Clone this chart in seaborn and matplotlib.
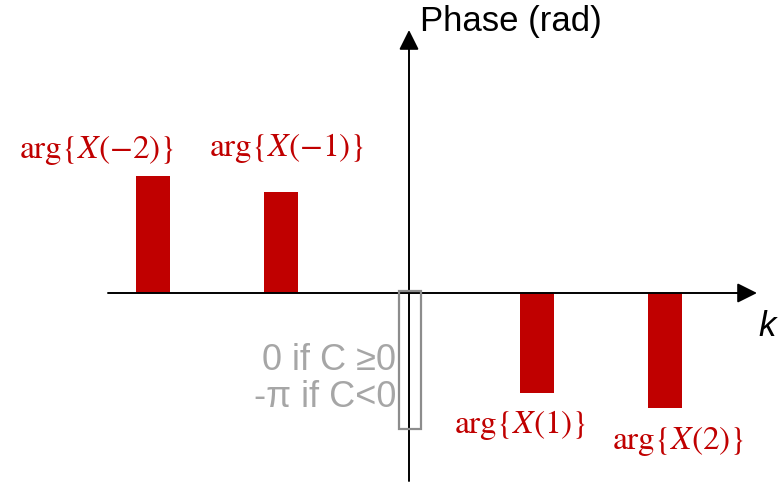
import matplotlib
matplotlib.use("Agg")
import matplotlib.pyplot as plt
from matplotlib.patches import Rectangle
import pandas as pd
import seaborn as sns

# Phase spectrum of a real signal (radians), one bar per harmonic k
k_values = [-2, -1, 1, 2]
phase_values = [2.7, 2.33, -2.3, -2.65]
bar_labels = [r"$\mathrm{arg}\{X(-2)\}$", r"$\mathrm{arg}\{X(-1)\}$",
              r"$\mathrm{arg}\{X(1)\}$", r"$\mathrm{arg}\{X(2)\}$"]
dc_note = "0 if C \u22650\n-\u03c0 if C<0"
dc_phase_min = -3.14159

# label offsets (pixels) relative to each bar tip
label_offsets = [(-56, 26), (6, 44), (-17, -32), (13, -33)]

RED = "#C00000"
GRAY_TEXT = "#A6A6A6"
GRAY_BOX = "#8C8C8C"

W, H = 784, 483
px_per_k = 128.0
px_per_rad = 43.3
x0_px, y0_px = 409, 293

sns.set_theme(style="white")
plt.rcParams["font.family"] = ["Liberation Sans", "DejaVu Sans"]
plt.rcParams["mathtext.fontset"] = "stix"

fig = plt.figure(figsize=(W / 100, H / 100), dpi=100)
ax = fig.add_axes([0, 0, 1, 1])

df = pd.DataFrame({"k": k_values, "phase": phase_values})
sns.barplot(data=df, x="k", y="phase", native_scale=True, width=0.27,
            color=RED, saturation=1, errorbar=None, linewidth=0, ax=ax)

xlim = (-x0_px / px_per_k, (W - x0_px) / px_per_k)
ylim = (-(H - y0_px) / px_per_rad, y0_px / px_per_rad)
ax.set_xlim(*xlim)
ax.set_ylim(*ylim)
ax.axis("off")

def px(xp, yp):
    return ((xp - x0_px) / px_per_k, (y0_px - yp) / px_per_rad)

# axes with arrow heads
arrow_kw = dict(arrowstyle="-|>,head_length=0.6,head_width=0.3",
                mutation_scale=20, lw=1.4, color="black",
                shrinkA=0, shrinkB=0)
ax.annotate("", xy=px(757, y0_px), xytext=px(108, y0_px),
            arrowprops=arrow_kw, zorder=5)
ax.annotate("", xy=px(x0_px, 30), xytext=px(x0_px, 481),
            arrowprops=arrow_kw, zorder=5)

# DC term: outlined box from 0 down to -pi
box_w = 0.165
ax.add_patch(Rectangle((-box_w / 2 + 0.008, dc_phase_min), box_w,
                       -dc_phase_min + 0.04, fill=False,
                       edgecolor=GRAY_BOX, lw=1.6, zorder=6))
ax.text(*px(396, 379), dc_note, ha="right", va="center",
        multialignment="right", fontsize=26, color=GRAY_TEXT,
        linespacing=1.1)

# bar labels
for k, v, lab, (dx, dy) in zip(k_values, phase_values, bar_labels, label_offsets):
    ax.annotate(lab, xy=(k, v), xytext=(dx, dy), textcoords="offset pixels",
                ha="center", va="center", fontsize=24, color=RED)

ax.text(*px(420, 22), "Phase (rad)", ha="left", va="center",
        fontsize=25, color="black")
ax.text(*px(767, 327), "k", ha="center", va="center", fontsize=25,
        style="italic", color="black")

fig.savefig("out.png", dpi=100)
